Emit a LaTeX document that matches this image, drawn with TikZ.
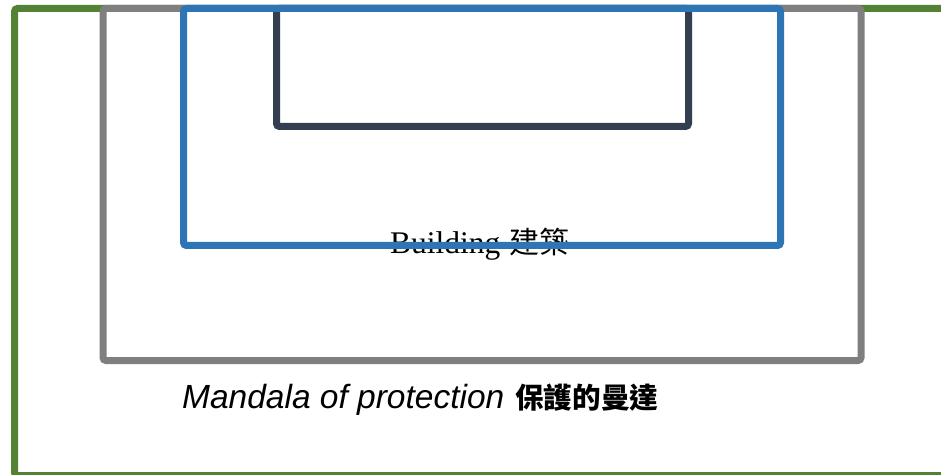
\documentclass[tikz,border=0pt]{standalone}
\usepackage{fontspec}
\setmainfont{Liberation Serif}
\newfontfamily\cjk{Noto Sans CJK TC}
\newfontfamily\arialf{Liberation Sans}
\definecolor{cgreen}{HTML}{548235}
\definecolor{cgray}{HTML}{7F7F7F}
\definecolor{cblue}{HTML}{2E75B6}
\definecolor{cdark}{HTML}{333F50}
\tikzset{
  zone/.style={line width=7pt, rounded corners=3pt},
  lbl/.style={inner sep=0pt, anchor=base west}
}
\begin{document}
\begin{tikzpicture}[x=1pt,y=1pt]
\useasboundingbox (0,0) rectangle (941,474);
\clip (0,0) rectangle (941,474);
\fill[white] (0,0) rectangle (941,474);
\draw[zone, cgreen] (14.5,465.5) rectangle (980,-1.5);
\draw[zone, cgray] (103,465.5) rectangle (861,113.5);
\draw[zone, cdark] (276.5,465.5) rectangle (688.5,347.5);
\node[lbl] (building) at (390,220) {\fontsize{31.5}{36}\selectfont Building\hspace{9pt}{\fontsize{30}{36}\selectfont\cjk 建築}};
\draw[zone, cblue] (183.5,465.5) rectangle (780.5,228.5);
\node[lbl] (mandala) at (182,66) {{\fontsize{33.5}{38}\selectfont\arialf\itshape Mandala of protection}\hspace{11pt}{\fontsize{28.6}{34}\selectfont\cjk\bfseries 保護的曼達}};
\end{tikzpicture}
\end{document}
